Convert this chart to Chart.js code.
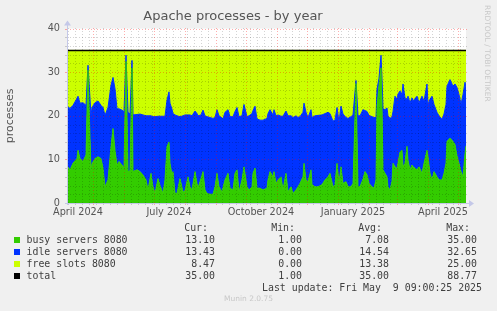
<!DOCTYPE html>
<html>
<head>
<meta charset="utf-8">
<script src="https://cdn.jsdelivr.net/npm/chart.js@4.4.1/dist/chart.umd.min.js"></script>
<style>
  html, body { margin: 0; padding: 0; background: #f0f0f0; }
  #wrap { position: relative; width: 497px; height: 311px; overflow: hidden; }
  #chart { position: absolute; left: 0; top: 0; }
  .t { position: absolute; white-space: pre; line-height: 12px; font-family: "DejaVu Sans Mono", monospace; font-size: 9.9px; color: #404040; }
  .sw { position: absolute; width: 6px; height: 6px; }
  #wm { position: absolute; left: 483px; top: 5px; writing-mode: vertical-rl; font-family: "DejaVu Sans", sans-serif; font-size: 7.5px; color: #c8c8c8; white-space: pre; }
  #munin { position: absolute; left: 0; width: 497px; top: 294px; text-align: center; font-family: "DejaVu Sans", sans-serif; font-size: 7.5px; color: #c8c8c8; }
</style>
</head>
<body>
<div id="wrap">
  <canvas id="chart" width="497" height="311"></canvas>
  <div id="legend"></div>
  <div id="wm">RRDTOOL / TOBI OETIKER</div>
  <div id="munin">Munin 2.0.75</div>
</div>
<script>
// day offsets counted from 1 April 2024
const days = [
  4, 7, 10, 14, 15, 17, 20, 23, 25, 28, 29, 32, 35, 38, 40, 42, 45, 48, 50, 52,
  54, 56, 59, 61, 63, 65, 67, 69, 70, 74, 77, 80, 83, 85, 88, 90, 92, 95, 97, 100,
  102, 104, 106, 107, 109, 110, 112, 114, 117, 120, 122, 125, 127, 129, 132, 134, 135, 138, 140, 142,
  144, 147, 150, 152, 154, 156, 159, 160, 162, 165, 167, 170, 172, 174, 176, 179, 181, 184, 186, 189,
  190, 192, 194, 197, 200, 204, 205, 207, 210, 211, 213, 215, 218, 220, 223, 225, 228, 230, 233, 235,
  237, 240, 241, 243, 245, 248, 249, 252, 255, 259, 262, 265, 267, 270, 272, 274, 276, 278, 280, 283,
  285, 288, 290, 293, 295, 297, 300, 302, 304, 306, 309, 311, 313, 314, 316, 318, 319, 320, 322, 324,
  325, 327, 329, 330, 332, 334, 335, 337, 339, 340, 342, 344, 345, 347, 349, 350, 354, 356, 359, 361,
  364, 365, 367, 369, 371, 374, 376, 379, 381, 383, 384, 387, 390, 392, 394, 396, 398, 400, 402, 403
];

const busy = [
  8.5, 7.6, 9.1, 10.2, 12.1, 10.2, 9.5, 11.0, 30.5, 7.2,
  9.0, 10.2, 10.6, 10.2, 8.0, 3.7, 5.3, 12.9, 17.1, 12.1,
  8.7, 9.5, 8.7, 8.0, 32.5, 7.2, 7.4, 31.0, 7.2, 7.6,
  7.2, 6.4, 5.3, 3.0, 6.8, 3.7, 2.2, 5.6, 4.0, 2.2,
  5.3, 12.9, 14.0, 9.1, 6.4, 7.2, 2.2, 2.2, 5.6, 2.5,
  2.8, 6.0, 3.7, 3.0, 7.2, 4.5, 3.4, 5.6, 7.2, 3.0,
  2.2, 2.0, 2.0, 3.7, 6.8, 3.7, 2.5, 3.5, 5.3, 6.8,
  3.4, 3.0, 6.8, 7.6, 2.5, 5.3, 8.3, 3.7, 3.0, 3.7,
  6.8, 8.0, 3.4, 3.4, 3.0, 3.4, 5.3, 7.2, 6.0, 7.2,
  4.5, 5.3, 6.0, 3.0, 6.8, 2.5, 3.7, 2.2, 3.0, 3.7,
  4.5, 6.0, 9.1, 5.3, 4.9, 7.6, 4.2, 3.7, 3.7, 4.2,
  5.3, 6.0, 6.8, 3.7, 4.2, 9.1, 4.5, 8.3, 4.5, 4.9,
  3.7, 3.7, 4.5, 27.4, 3.7, 3.7, 5.5, 7.2, 6.5, 4.5,
  3.7, 3.4, 5.3, 22.0, 27.0, 31.0, 22.0, 7.6, 6.8, 6.0,
  3.7, 3.0, 5.0, 9.1, 8.3, 7.9, 9.1, 11.7, 12.1, 8.3,
  9.1, 13.0, 9.8, 7.6, 8.7, 8.3, 7.6, 8.3, 6.8, 9.1,
  12.1, 10.6, 6.8, 5.3, 7.2, 6.0, 5.3, 5.3, 6.8, 9.1,
  14.1, 14.9, 14.1, 13.4, 10.8, 9.1, 7.2, 6.0, 11.3, 13.1
];

const idle = [
  13.7, 14.1, 13.3, 13.8, 12.4, 12.7, 13.5, 11.4, 1.1, 12.9,
  12.9, 12.8, 12.8, 12.2, 13.9, 16.4, 16.6, 14.1, 11.7, 14.1,
  12.9, 12.1, 12.6, 12.9, 1.4, 13.6, 13.0, 1.7, 13.0, 12.7,
  13.2, 13.8, 14.7, 17.0, 13.2, 16.1, 17.6, 14.3, 15.9, 17.7,
  14.6, 10.7, 11.5, 13.8, 15.1, 13.3, 18.0, 17.8, 14.2, 17.5,
  17.4, 14.2, 16.5, 17.0, 13.9, 16.0, 16.6, 14.6, 14.1, 17.0,
  17.6, 17.6, 17.4, 15.9, 14.6, 16.3, 17.0, 15.8, 15.5, 14.6,
  16.4, 16.8, 14.2, 14.3, 17.3, 14.7, 14.3, 16.1, 17.0, 16.8,
  14.4, 14.2, 15.9, 15.6, 16.0, 16.0, 15.2, 14.2, 14.2, 14.2,
  15.5, 14.9, 13.9, 16.9, 14.3, 17.5, 16.3, 17.4, 17.0, 15.9,
  15.3, 14.8, 13.8, 15.5, 14.7, 13.8, 15.4, 16.3, 16.4, 16.0,
  15.2, 14.8, 13.7, 15.1, 14.8, 12.8, 14.1, 13.9, 15.9, 14.7,
  15.7, 16.1, 15.7, 0.7, 16.3, 16.3, 15.9, 14.0, 14.5, 15.6,
  16.1, 16.2, 14.3, 4.1, 1.6, 2.9, 6.6, 14.0, 14.6, 15.8,
  16.3, 16.4, 14.8, 11.9, 16.2, 15.9, 15.9, 14.0, 12.8, 19.0,
  15.0, 10.8, 14.7, 15.4, 15.4, 15.1, 16.9, 14.7, 17.7, 14.3,
  15.2, 12.0, 17.0, 19.2, 15.4, 14.8, 14.7, 13.9, 13.6, 13.5,
  12.7, 13.4, 12.7, 13.9, 15.7, 15.8, 15.4, 18.9, 16.4, 13.4
];

const free = [
  12.8, 13.3, 12.6, 11.0, 10.5, 12.1, 12.0, 12.6, 3.4, 14.9,
  13.1, 12.0, 11.6, 12.6, 13.1, 14.9, 13.1, 8.0, 6.2, 8.8,
  13.4, 13.4, 13.7, 14.1, 1.1, 14.2, 14.6, 2.3, 14.8, 14.7,
  14.6, 14.8, 15.0, 15.0, 15.0, 15.2, 15.2, 15.1, 15.1, 15.1,
  15.1, 11.4, 9.5, 12.1, 13.5, 14.5, 14.8, 15.0, 15.2, 15.0,
  14.8, 14.8, 14.8, 15.0, 13.9, 14.5, 15.0, 14.8, 13.7, 15.0,
  15.2, 15.4, 15.6, 15.4, 13.6, 15.0, 15.5, 15.7, 14.2, 13.6,
  15.2, 15.2, 14.0, 13.1, 15.2, 15.0, 12.4, 15.2, 15.0, 14.5,
  13.8, 12.8, 15.7, 16.0, 16.0, 15.6, 14.5, 13.6, 14.8, 13.6,
  15.0, 14.8, 15.1, 15.1, 13.9, 15.0, 15.0, 15.4, 15.0, 15.4,
  15.2, 14.2, 12.1, 14.2, 15.4, 13.6, 15.4, 15.0, 14.9, 14.8,
  14.5, 14.2, 14.5, 16.2, 16.0, 13.1, 16.4, 12.8, 14.6, 15.4,
  15.6, 15.2, 14.8, 6.9, 15.0, 15.0, 13.6, 13.8, 14.0, 14.9,
  15.2, 15.4, 15.4, 8.9, 6.4, 1.1, 6.4, 13.4, 13.6, 13.2,
  15.0, 15.6, 15.2, 14.0, 10.5, 11.2, 10.0, 9.3, 10.1, 7.7,
  10.9, 11.2, 10.5, 12.0, 10.9, 11.6, 10.5, 12.0, 10.5, 11.6,
  7.7, 12.4, 11.2, 10.5, 12.4, 14.2, 15.0, 15.8, 14.6, 12.4,
  8.2, 6.7, 8.2, 7.7, 8.5, 10.1, 12.4, 10.1, 7.3, 8.5
];

const totalDays = [4, 403];
const totalVals = [35, 35];

// x labels sit mid-month, like rrdtool does
const tickDays = [15, 106, 198, 290, 380];
const tickLabels = ["April 2024", "July 2024", "October 2024", "January 2025", "April 2025"];
const monthStarts = [30, 61, 91, 122, 153, 183, 214, 244, 275, 306, 334, 365, 395];
const yTicks = [0, 10, 20, 30, 40];

const legendNames = ["busy servers 8080", "idle servers 8080", "free slots 8080", "total"];
const legendColors = ["#33cc00", "#0033ff", "#ccff00", "#000000"];
const curVals = ["13.10", "13.43", "8.47", "35.00"];
const minVals = ["1.00", "0.00", "0.00", "1.00"];
const avgVals = ["7.08", "14.54", "13.38", "35.00"];
const maxVals = ["35.00", "32.65", "25.00", "88.77"];

const pts = (xs, ys) => xs.map((d, i) => ({ x: d, y: ys[i] }));

const MAJOR = "rgba(255,0,0,0.32)";
const MINOR = "rgba(0,0,0,0.17)";
const AXIS = "#c4c8e8";

const rrdGrid = {
  id: "rrdGrid",
  beforeDraw(chart) {
    const { ctx, chartArea: a } = chart;
    ctx.save();
    ctx.fillStyle = "#ffffff";
    ctx.fillRect(a.left, a.top, a.right - a.left, a.bottom - a.top);
    ctx.restore();
  },
  afterDatasetsDraw(chart) {
    const { ctx, chartArea: a, scales } = chart;
    const x = scales.x, y = scales.y;
    ctx.save();
    ctx.lineWidth = 1;
    const hline = (v, col) => {
      const py = Math.round(y.getPixelForValue(v)) + 0.5;
      ctx.strokeStyle = col;
      ctx.setLineDash([1, 2]);
      ctx.beginPath(); ctx.moveTo(a.left, py); ctx.lineTo(a.right + 2, py); ctx.stroke();
      ctx.setLineDash([]);
      ctx.beginPath(); ctx.moveTo(a.left - 2, py); ctx.lineTo(a.left, py); ctx.stroke();
    };
    const vline = (d, col) => {
      const px = Math.round(x.getPixelForValue(d)) + 0.5;
      ctx.strokeStyle = col;
      ctx.setLineDash([1, 2]);
      ctx.beginPath(); ctx.moveTo(px, a.bottom); ctx.lineTo(px, a.top - 2); ctx.stroke();
      ctx.setLineDash([]);
      ctx.beginPath(); ctx.moveTo(px, a.bottom); ctx.lineTo(px, a.bottom + 2); ctx.stroke();
    };
    for (let v = 2; v < 40; v += 2) if (v % 10 !== 0) hline(v, MINOR);
    for (let d = 5; d <= 403; d += 7) {
      if (monthStarts.some(m => Math.abs(m - d) < 2)) continue;
      vline(d, MINOR);
    }
    for (const v of yTicks) if (v > 0) hline(v, MAJOR);
    for (const m of monthStarts) vline(m, MAJOR);

    // axes with little arrows
    ctx.strokeStyle = AXIS;
    ctx.fillStyle = AXIS;
    ctx.beginPath();
    ctx.moveTo(a.left - 2, a.bottom + 0.5); ctx.lineTo(a.right + 4, a.bottom + 0.5);
    ctx.moveTo(a.left + 0.5, a.bottom + 2); ctx.lineTo(a.left + 0.5, a.top - 4);
    ctx.stroke();
    ctx.beginPath();
    ctx.moveTo(a.right + 3, a.bottom - 3); ctx.lineTo(a.right + 8, a.bottom + 0.5); ctx.lineTo(a.right + 3, a.bottom + 4);
    ctx.closePath(); ctx.fill();
    ctx.beginPath();
    ctx.moveTo(a.left - 3, a.top - 3); ctx.lineTo(a.left + 0.5, a.top - 8); ctx.lineTo(a.left + 4, a.top - 3);
    ctx.closePath(); ctx.fill();
    ctx.restore();
  }
};

new Chart(document.getElementById("chart"), {
  type: "line",
  data: {
    datasets: [
      { label: legendNames[0], data: pts(days, busy), backgroundColor: legendColors[0], borderColor: legendColors[0], borderWidth: 1, fill: "origin", stack: "a" },
      { label: legendNames[1], data: pts(days, idle), backgroundColor: legendColors[1], borderColor: legendColors[1], borderWidth: 1, fill: "-1", stack: "a" },
      { label: legendNames[2], data: pts(days, free), backgroundColor: legendColors[2], borderColor: legendColors[2], borderWidth: 1, fill: "-1", stack: "a" },
      { label: legendNames[3], data: pts(totalDays, totalVals), borderColor: legendColors[3], borderWidth: 1.5, fill: false, stack: "total", order: -1 }
    ]
  },
  options: {
    responsive: false,
    animation: false,
    events: [],
    elements: { point: { radius: 0 }, line: { tension: 0 } },
    layout: { padding: { left: 0, right: 31, top: 0, bottom: 0 } },
    plugins: {
      legend: { display: false },
      tooltip: { enabled: false },
      title: {
        display: true,
        text: "Apache processes - by year",
        color: "#555555",
        font: { family: "DejaVu Sans", size: 13, weight: "normal" },
        padding: { top: 9, bottom: 4 }
      }
    },
    scales: {
      x: {
        type: "linear",
        min: 4,
        max: 403,
        grid: { display: false, drawTicks: false },
        border: { display: false },
        afterBuildTicks: s => { s.ticks = tickDays.map(v => ({ value: v })); },
        afterFit: s => { s.height = 108; },
        ticks: {
          autoSkip: false,
          maxRotation: 0,
          padding: 4,
          color: "#555555",
          font: { family: "DejaVu Sans", size: 9.7 },
          callback: v => tickLabels[tickDays.indexOf(v)]
        }
      },
      y: {
        stacked: true,
        min: 0,
        max: 40,
        grid: { display: false, drawTicks: false },
        border: { display: false },
        afterBuildTicks: s => { s.ticks = yTicks.map(v => ({ value: v })); },
        afterFit: s => { s.width = 67; },
        ticks: {
          padding: 7,
          color: "#555555",
          font: { family: "DejaVu Sans", size: 9.7 }
        },
        title: {
          display: true,
          text: "processes",
          color: "#555555",
          font: { family: "DejaVu Sans", size: 11 },
          padding: { top: 4, bottom: 0 }
        }
      }
    }
  },
  plugins: [rrdGrid]
});

// legend table below the graph, as rrdtool prints it
const leg = document.getElementById("legend");
const W = 497;
function txt(s, top, opt) {
  const el = document.createElement("div");
  el.className = "t";
  el.textContent = s;
  el.style.top = top + "px";
  if (opt.right !== undefined) el.style.right = (W - opt.right) + "px";
  else el.style.left = opt.left + "px";
  leg.appendChild(el);
}
const colRight = [215, 302, 389, 477];
["Cur:", "Min:", "Avg:", "Max:"].forEach((h, j) => txt(h, 221.5, { right: colRight[j] - 7 }));
legendNames.forEach((name, i) => {
  const cy = 239.7 + 12 * i;
  const sw = document.createElement("div");
  sw.className = "sw";
  sw.style.left = "14px";
  sw.style.top = (cy - 2.5) + "px";
  sw.style.background = legendColors[i];
  leg.appendChild(sw);
  txt(name, cy - 6, { left: 26.5 });
  [curVals, minVals, avgVals, maxVals].forEach((col, j) => txt(col[i], cy - 6, { right: colRight[j] }));
});
txt("Last update: Fri May  9 09:00:25 2025", 281.5, { right: 482 });
</script>
</body>
</html>
